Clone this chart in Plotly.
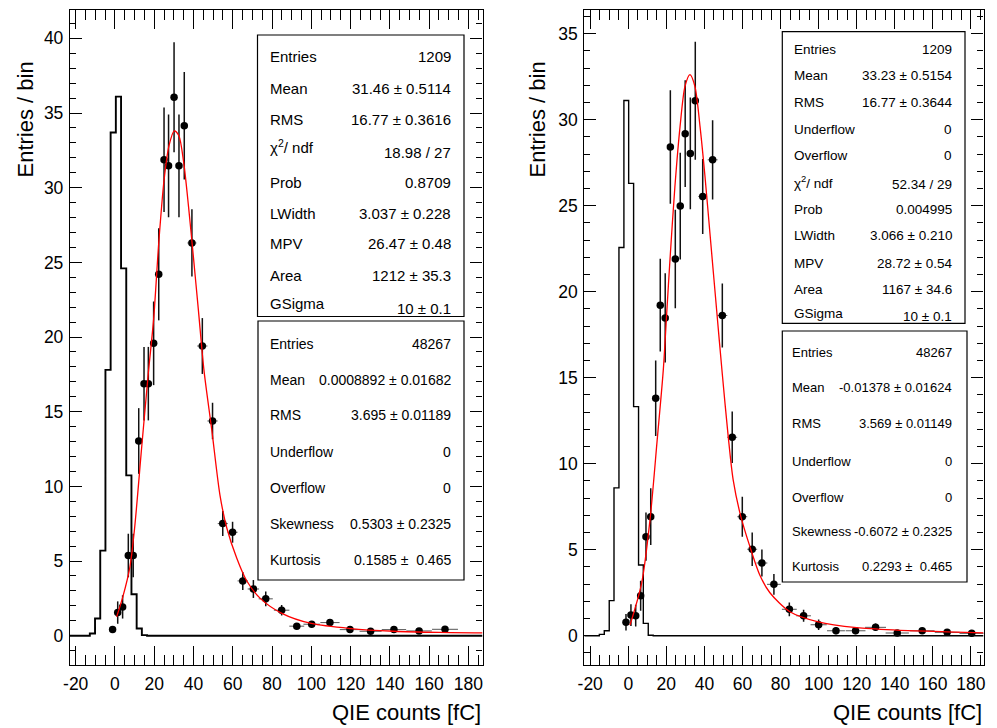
import plotly.graph_objects as go

W, H = 997, 728
FONT = "Liberation Sans, Arial, Helvetica, sans-serif"

# ---------------- data: left panel ----------------
L_x = [-1.2, 1.4, 3.9, 6.8, 9.3, 12.1, 14.8, 17.0, 19.7, 22.3, 25.0, 27.3, 30.1, 32.6, 35.3,
       39.2, 44.5, 49.7, 54.9, 59.9, 65.1, 70.5, 76.8, 84.9, 92.6, 100.2, 109.5, 119.7,
       130.2, 142.1, 154.9, 168.1]
L_y = [0.41, 1.55, 1.93, 5.37, 5.37, 13.04, 16.88, 16.88, 19.58, 24.2, 31.87, 31.47, 36.06,
       31.47, 34.15, 26.3, 19.4, 14.38, 7.51, 6.93, 3.67, 3.13, 2.47, 1.71, 0.64, 0.77, 0.88,
       0.41, 0.30, 0.41, 0.32, 0.43]
L_ey = [0.2, 0.75, 0.78, 1.46, 1.46, 2.2, 2.46, 2.46, 2.8, 3.08, 3.5, 3.44, 3.68, 3.44, 3.6,
        2.25, 1.87, 1.22, 0.84, 0.7, 0.6, 0.6, 0.5, 0.35, 0.2, 0.22, 0.2, 0.13, 0.1, 0.1, 0.08, 0.08]
L_ex = [1.3] * 14 + [1.65, 2.3, 2.6, 2.6, 2.55, 2.55, 2.65, 2.9, 3.6, 3.95, 3.8, 4.2, 4.9, 5.2,
                     5.6, 6.2, 6.5, 6.6]

L_edges = [-12.8, -10.15, -7.5, -4.85, -2.2, 0.45, 3.1, 5.75, 8.4, 11.05, 13.7, 16.35]
L_counts = [0.15, 1.15, 5.7, 17.8, 33.7, 36.1, 24.6, 10.74, 2.78, 0.48, 0.04]

L_fit_x = [0.85, 4, 7.6, 10, 13.6, 17, 19.7, 22.3, 25, 27.5, 30.2, 32.5, 35, 37.5, 40, 42.5,
           45.4, 49.3, 53.5, 57, 62, 67, 74, 85, 100, 120, 142, 165, 187.2]
L_fit_y = [1.26, 2.6, 4.6, 7.2, 12.6, 17.6, 21.2, 26.3, 30.5, 32.8, 33.8, 33.5, 31.7, 28.7,
           25.3, 21.8, 17.7, 13.8, 9.4, 7.2, 5.2, 3.7, 2.5, 1.5, 0.82, 0.48, 0.3, 0.22, 0.19]

# ---------------- data: right panel ----------------
R_x = [-1.2, 1.4, 3.9, 6.5, 9.3, 11.8, 14.4, 16.8, 19.4, 22.1, 24.7, 27.3, 29.9, 32.6, 35.2,
       39.1, 44.3, 49.4, 54.6, 59.9, 65.1, 70.2, 76.5, 84.6, 92.1, 100.0, 109.1, 119.4, 129.9,
       141.3, 154.4, 167.5, 180.4]
R_y = [0.78, 1.2, 1.17, 2.33, 5.76, 6.92, 13.81, 19.22, 18.48, 28.41, 21.9, 24.98, 29.19,
       28.04, 31.1, 25.54, 27.67, 18.62, 11.54, 6.92, 5.03, 4.23, 2.99, 1.54, 1.16, 0.64, 0.29,
       0.29, 0.49, 0.16, 0.29, 0.2, 0.14]
R_ey = [0.48, 0.63, 0.63, 0.87, 1.4, 1.65, 2.2, 2.7, 2.6, 3.3, 2.86, 3.1, 3.1, 3.25, 3.43,
        2.18, 2.3, 1.86, 1.5, 1.16, 0.97, 0.78, 0.6, 0.4, 0.35, 0.3, 0.2, 0.2, 0.22, 0.15, 0.15,
        0.12, 0.1]
R_ex = [1.3] * 14 + [1.65, 2.3, 2.6, 2.6, 2.6, 2.6, 2.6, 2.85, 3.6, 3.9, 3.85, 4.25, 4.7, 5.2,
                     5.5, 6.1, 6.5, 6.5, 6.4]

R_edges = [-15.2, -12.6, -10.0, -7.5, -4.9, -2.3, 0.2, 2.8, 5.4, 7.9, 10.5, 13.1]
R_counts = [0.08, 0.29, 2.04, 8.6, 22.57, 31.12, 26.3, 13.32, 4.11, 0.72, 0.03]

R_fit_x = [0.9, 7.0, 11.4, 15.2, 18.4, 20.2, 21.9, 24.5, 27.2, 29.8, 32.4, 35.0, 37.7, 40.3,
           42.9, 46.4, 49.4, 52.5, 55.1, 58.7, 63.9, 69.2, 74.4, 84.9, 99.8, 120, 141, 167.2,
           186.6]
R_fit_y = [0.62, 3.05, 6.73, 11.4, 15.46, 18.76, 21.86, 26.12, 29.6, 31.94, 32.62, 31.94,
           29.6, 26.7, 23.4, 18.95, 15.2, 11.58, 9.06, 7.12, 5.18, 3.5, 2.5, 1.4, 0.81, 0.47,
           0.33, 0.23, 0.17]

# ---------------- axes / labels ----------------
X_RANGE_L = [-22.9, 187.2]
X_RANGE_R = [-23.1, 186.6]
Y_RANGE_L = [-1.96, 41.9]
Y_RANGE_R = [-1.70, 36.38]
X_TICKS = [-20, 0, 20, 40, 60, 80, 100, 120, 140, 160, 180]
X_TICKTEXT = ["-20", "0", "20", "40", "60", "80", "100", "120", "140", "160", "180"]
Y_TICKS_L = [0, 5, 10, 15, 20, 25, 30, 35, 40]
Y_TICKS_R = [0, 5, 10, 15, 20, 25, 30, 35]
X_TITLE = "QIE counts [fC]"
Y_TITLE = "Entries / bin"

STATS_L_FIT = [("Entries", "1209"), ("Mean", "31.46 ± 0.5114"), ("RMS", "16.77 ± 0.3616"),
               ("χ<sup>2</sup>/ ndf", "18.98 / 27"), ("Prob", "0.8709"),
               ("LWidth", "3.037 ± 0.228"), ("MPV", "26.47 ± 0.48"), ("Area", "1212 ± 35.3"),
               ("GSigma", "10 ± 0.1")]
STATS_L_PED = [("Entries", "48267"), ("Mean", "0.0008892 ± 0.01682"),
               ("RMS", "3.695 ± 0.01189"), ("Underflow", "0"), ("Overflow", "0"),
               ("Skewness", "0.5303 ± 0.2325"), ("Kurtosis", "0.1585 ±\u00a0 0.465")]
STATS_R_FIT = [("Entries", "1209"), ("Mean", "33.23 ± 0.5154"), ("RMS", "16.77 ± 0.3644"),
               ("Underflow", "0"), ("Overflow", "0"), ("χ<sup>2</sup>/ ndf", "52.34 / 29"),
               ("Prob", "0.004995"), ("LWidth", "3.066 ± 0.210"), ("MPV", "28.72 ± 0.54"),
               ("Area", "1167 ± 34.6"), ("GSigma", "10 ± 0.1")]
STATS_R_PED = [("Entries", "48267"), ("Mean", "-0.01378 ± 0.01624"),
               ("RMS", "3.569 ± 0.01149"), ("Underflow", "0"), ("Overflow", "0"),
               ("Skewness", "-0.6072 ± 0.2325"), ("Kurtosis", "0.2293 ±\u00a0 0.465")]


def fx(p):
    return p / W


def fy(p):
    return 1 - p / H


fig = go.Figure()


def add_panel(xa, ya, hx, hy, hex_, hey, edges, counts, fx_, fy_, xr, hw):
    sx = [xr[0]] + list(edges) + [xr[1]]
    sy = [0] + list(counts) + [0, 0]
    fig.add_trace(go.Scatter(x=sx, y=sy, mode="lines", line=dict(color="black", width=hw, shape="hv"),
                             xaxis=xa, yaxis=ya, showlegend=False, hoverinfo="skip"))
    fig.add_trace(go.Scatter(x=hx, y=hy, mode="markers",
                             marker=dict(color="black", size=7.5, symbol="circle"),
                             error_y=dict(type="data", array=hey, visible=True, width=0,
                                          thickness=1.5, color="#111"),
                             error_x=dict(type="data", array=hex_, visible=True, width=0,
                                          thickness=1, color="#555"),
                             xaxis=xa, yaxis=ya, showlegend=False))
    fig.add_trace(go.Scatter(x=fx_, y=fy_, mode="lines",
                             line=dict(color="red", width=1.3, shape="spline", smoothing=0.8),
                             xaxis=xa, yaxis=ya, showlegend=False, hoverinfo="skip"))


add_panel("x", "y", L_x, L_y, L_ex, L_ey, L_edges, L_counts, L_fit_x, L_fit_y, X_RANGE_L, 1.9)
add_panel("x2", "y2", R_x, R_y, R_ex, R_ey, R_edges, R_counts, R_fit_x, R_fit_y, X_RANGE_R, 1.4)

ydom = [fy(665), fy(10)]


def xaxis(dom, rng):
    return dict(domain=dom, range=rng, tickmode="array", tickvals=X_TICKS, ticktext=X_TICKTEXT,
                ticks="inside", ticklen=19, tickwidth=1, tickcolor="black",
                minor=dict(ticks="inside", ticklen=10, tickwidth=1, tickcolor="black",
                           tickmode="linear", tick0=0, dtick=5, showgrid=False),
                showline=True, linecolor="black", linewidth=1.3, mirror="ticks",
                showgrid=False, zeroline=False, automargin=False,
                tickfont=dict(family=FONT, size=17.5, color="black"), ticklabelstandoff=3)


def yaxis(anchor, rng, ticks, tl):
    return dict(domain=ydom, anchor=anchor, range=rng, tickmode="array", tickvals=ticks,
                ticktext=[str(t) for t in ticks],
                ticks="inside", ticklen=tl, tickwidth=1, tickcolor="black",
                minor=dict(ticks="inside", ticklen=tl / 2, tickwidth=1, tickcolor="black",
                           tickmode="linear", tick0=0, dtick=1, showgrid=False),
                showline=True, linecolor="black", linewidth=1.3, mirror="ticks",
                showgrid=False, zeroline=False, automargin=False,
                tickfont=dict(family=FONT, size=17.5, color="black"), ticklabelstandoff=2)


fig.update_layout(
    width=W, height=H, autosize=False,
    margin=dict(l=0, r=0, t=0, b=0, pad=0),
    paper_bgcolor="white", plot_bgcolor="white",
    xaxis=dict(**xaxis([fx(70), fx(482.5)], X_RANGE_L), anchor="y"),
    yaxis=yaxis("x", Y_RANGE_L, Y_TICKS_L, 12),
    xaxis2=dict(**xaxis([fx(584.3), fx(983.5)], X_RANGE_R), anchor="y2"),
    yaxis2=yaxis("x2", Y_RANGE_R, Y_TICKS_R, 12),
)

shapes = []
annotations = []


def stat_box(x0, x1, y0, y1, rows, ys, lx, rx, size, yv=None):
    shapes.append(dict(type="rect", xref="paper", yref="paper", x0=fx(x0), x1=fx(x1),
                       y0=fy(y1), y1=fy(y0), line=dict(color="black", width=1.2),
                       fillcolor="white", layer="above"))
    for i, (lab, val) in enumerate(rows):
        yl = ys[i]
        yvv = yv[i] if yv else ys[i]
        annotations.append(dict(text=lab, x=fx(lx), y=fy(yl), xref="paper", yref="paper",
                                xanchor="left", yanchor="middle", showarrow=False,
                                font=dict(family=FONT, size=size, color="black")))
        annotations.append(dict(text=val, x=fx(rx), y=fy(yvv), xref="paper", yref="paper",
                                xanchor="right", yanchor="middle", showarrow=False,
                                font=dict(family=FONT, size=size, color="black")))


stat_box(257.5, 464, 35, 316.5, STATS_L_FIT,
         [56.7, 88.3, 120, 147, 182.3, 213.3, 244, 275, 303.5], 268, 452.5, 15,
         [56.7, 88.3, 120, 152, 182.3, 213.3, 244, 275, 308.5])
stat_box(258, 464, 321, 580, STATS_L_PED,
         [344, 380, 415, 452, 488, 524, 560], 268, 452.5, 14)
stat_box(782.3, 965, 31.7, 323.3, STATS_R_FIT,
         [49.3, 76, 102.3, 129.3, 155, 181.5, 209.3, 235.7, 263.3, 290, 313.3], 791.5, 953.5, 13.5,
         [49.3, 76, 102.3, 129.3, 155, 184.5, 209.3, 235.7, 263.3, 290, 316.7])
stat_box(782.3, 967, 331, 582, STATS_R_PED,
         [352, 387, 423, 461, 497, 531, 566], 789.5, 954, 13)

# axis titles
for xr in (482.5, 983.5):
    annotations.append(dict(text=X_TITLE, x=fx(xr), y=fy(712), xref="paper", yref="paper",
                            xanchor="right", yanchor="middle", showarrow=False,
                            font=dict(family=FONT, size=22, color="black")))
for xc in (24.5, 536.5):
    annotations.append(dict(text=Y_TITLE, x=fx(xc), y=fy(60), xref="paper", yref="paper",
                            xanchor="center", yanchor="top", textangle=-90, showarrow=False,
                            font=dict(family=FONT, size=22, color="black")))

fig.update_layout(shapes=shapes, annotations=annotations)
fig.write_html("out.html", config={"displayModeBar": False},
               post_script="document.body.style.margin='0';document.body.style.overflow='hidden';")
